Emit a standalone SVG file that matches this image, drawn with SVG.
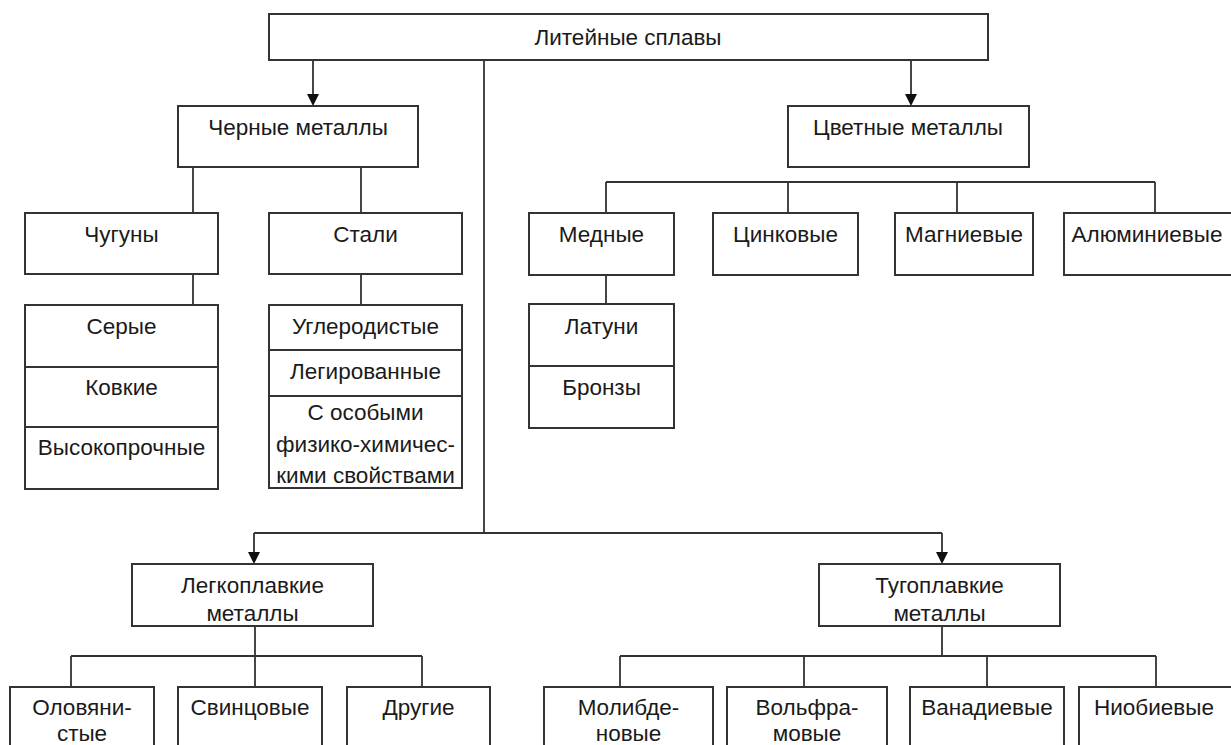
<svg xmlns="http://www.w3.org/2000/svg" width="1231" height="745" viewBox="0 0 1231 745">
<defs>
<style>
.b{fill:#fff;stroke:#333;stroke-width:2}
.l{fill:none;stroke:#333;stroke-width:1.8}
.a{fill:#111}
text{font-family:"Liberation Sans",Arial,sans-serif;font-size:22.5px;fill:#1a1a1a;text-anchor:middle}
</style>
</defs>
<rect width="1231" height="745" fill="#fff"/>
<g id="connectors">
<path class="l" d="M484,60 V533 M254,533 H942"/>
<path class="l" d="M313,60 V96 M911,60 V96 M254,533 V554 M942,533 V554"/>
<path class="a" d="M307,94 L319,94 L313,106 Z M905,94 L917,94 L911,106 Z M248,552 L260,552 L254,564 Z M936,552 L948,552 L942,564 Z"/>
<path class="l" d="M193,167 V213 M361,167 V213 M193,274 V305 M361,274 V305"/>
<path class="l" d="M606,182 H1155 M606,182 V213 M788,182 V213 M957,182 V213 M1155,182 V213 M606,275 V304"/>
<path class="l" d="M255,626 V687 M71,656 H422 M71,656 V687 M422,656 V687"/>
<path class="l" d="M942,626 V656 M620,656 H1156 M620,656 V687 M804,656 V687 M987,656 V687 M1156,656 V687"/>
</g>
<g id="n-root"><rect class="b" x="269" y="14" width="719" height="46"/><text x="628" y="45">Литейные сплавы</text></g>
<g id="n-black"><rect class="b" x="178" y="106" width="240" height="61"/><text x="298" y="135">Черные металлы</text></g>
<g id="n-color"><rect class="b" x="788" y="106" width="241" height="61"/><text x="908" y="135">Цветные металлы</text></g>
<g id="n-chugun"><rect class="b" x="25" y="213" width="193" height="61"/><text x="121.5" y="242">Чугуны</text></g>
<g id="n-stal"><rect class="b" x="269" y="213" width="193" height="61"/><text x="365.5" y="242">Стали</text></g>
<g id="n-chugun-sub"><rect class="b" x="25" y="305" width="193" height="184"/><path class="l" d="M25,367 H218 M25,427 H218"/>
<text x="121.5" y="334">Серые</text><text x="121.5" y="395">Ковкие</text><text x="121.5" y="455">Высокопрочные</text></g>
<g id="n-stal-sub"><rect class="b" x="269" y="305" width="193" height="183"/><path class="l" d="M269,350 H462 M269,396 H462"/>
<text x="365.5" y="334">Углеродистые</text><text x="365.5" y="379">Легированные</text>
<text x="365.5" y="420">С особыми</text><text x="365.5" y="452">физико-химичес-</text><text x="365.5" y="483">кими свойствами</text></g>
<g id="n-med"><rect class="b" x="529" y="213" width="145" height="62"/><text x="601.5" y="242">Медные</text></g>
<g id="n-med-sub"><rect class="b" x="529" y="304" width="145" height="124"/><path class="l" d="M529,366 H674"/>
<text x="601.5" y="334">Латуни</text><text x="601.5" y="395">Бронзы</text></g>
<g id="n-zn"><rect class="b" x="713" y="213" width="145" height="62"/><text x="785.5" y="242">Цинковые</text></g>
<g id="n-mg"><rect class="b" x="895" y="213" width="138" height="62"/><text x="964" y="242">Магниевые</text></g>
<g id="n-al"><rect class="b" x="1064" y="213" width="180" height="62"/><text x="1147" y="242">Алюминиевые</text></g>
<g id="n-light"><rect class="b" x="132" y="564" width="241" height="62"/><text x="252.5" y="593">Легкоплавкие</text><text x="252.5" y="621">металлы</text></g>
<g id="n-heavy"><rect class="b" x="819" y="564" width="241" height="62"/><text x="939.5" y="593">Тугоплавкие</text><text x="939.5" y="621">металлы</text></g>
<g id="n-sn"><rect class="b" x="10" y="687" width="144" height="80"/><text x="82" y="715">Оловяни-</text><text x="82" y="741">стые</text></g>
<g id="n-pb"><rect class="b" x="178" y="687" width="144" height="80"/><text x="250" y="715">Свинцовые</text></g>
<g id="n-other"><rect class="b" x="347" y="687" width="143" height="80"/><text x="418.5" y="715">Другие</text></g>
<g id="n-mo"><rect class="b" x="544" y="687" width="169" height="80"/><text x="628.5" y="715">Молибде-</text><text x="628.5" y="741">новые</text></g>
<g id="n-w"><rect class="b" x="727" y="687" width="160" height="80"/><text x="807" y="715">Вольфра-</text><text x="807" y="741">мовые</text></g>
<g id="n-v"><rect class="b" x="910" y="687" width="154" height="80"/><text x="987" y="715">Ванадиевые</text></g>
<g id="n-nb"><rect class="b" x="1079" y="687" width="165" height="80"/><text x="1154" y="715">Ниобиевые</text></g>
</svg>
